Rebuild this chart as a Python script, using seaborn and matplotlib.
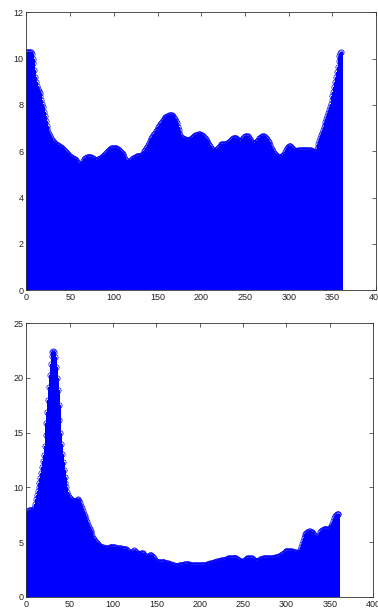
import numpy as np
import pandas as pd
import seaborn as sns
import matplotlib
matplotlib.use("Agg")
import matplotlib.pyplot as plt

# hue angle 0..360, one value per degree
angles = list(range(0, 361))

top_vals = [
    10.3, 10.3, 10.3, 10.3, 10.3, 10.3, 10.2, 10.0, 9.8, 9.5,
    9.2, 9.0, 8.8, 8.7, 8.6, 8.5, 8.4, 8.2, 8.05, 7.9,
    7.7, 7.5, 7.3, 7.1, 6.95, 6.85, 6.75, 6.65, 6.55, 6.5,
    6.45, 6.4, 6.35, 6.3, 6.3, 6.28, 6.25, 6.22, 6.2, 6.18,
    6.15, 6.12, 6.1, 6.05, 6.0, 5.95, 5.92, 5.9, 5.85, 5.8,
    5.78, 5.75, 5.72, 5.7, 5.68, 5.65, 5.62, 5.6, 5.55, 5.5,
    5.45, 5.42, 5.4, 5.45, 5.5, 5.58, 5.65, 5.7, 5.72, 5.75,
    5.75, 5.76, 5.76, 5.75, 5.74, 5.72, 5.7, 5.66, 5.64, 5.63,
    5.63, 5.64, 5.66, 5.68, 5.7, 5.72, 5.73, 5.76, 5.8, 5.84,
    5.88, 5.92, 5.96, 6.0, 6.04, 6.07, 6.1, 6.12, 6.14, 6.15,
    6.15, 6.15, 6.14, 6.12, 6.1, 6.08, 6.04, 6.0, 5.96, 5.92,
    5.88, 5.82, 5.75, 5.68, 5.6, 5.55, 5.5, 5.48, 5.52, 5.58,
    5.62, 5.66, 5.7, 5.72, 5.74, 5.76, 5.78, 5.8, 5.8, 5.8,
    5.8, 5.82, 5.84, 5.88, 5.94, 6.0, 6.06, 6.12, 6.2, 6.28,
    6.36, 6.44, 6.5, 6.56, 6.62, 6.68, 6.74, 6.8, 6.86, 6.92,
    6.98, 7.04, 7.1, 7.16, 7.22, 7.28, 7.33, 7.38, 7.42, 7.46,
    7.48, 7.51, 7.53, 7.55, 7.56, 7.56, 7.55, 7.53, 7.5, 7.45,
    7.38, 7.3, 7.2, 7.05, 6.9, 6.78, 6.68, 6.62, 6.58, 6.55,
    6.53, 6.52, 6.5, 6.5, 6.5, 6.5, 6.5, 6.52, 6.54, 6.56,
    6.6, 6.62, 6.65, 6.68, 6.7, 6.72, 6.73, 6.73, 6.73, 6.72,
    6.7, 6.68, 6.65, 6.62, 6.58, 6.52, 6.46, 6.4, 6.34, 6.28,
    6.22, 6.16, 6.1, 6.06, 6.03, 6.02, 6.02, 6.05, 6.1, 6.16,
    6.2, 6.24, 6.27, 6.3, 6.32, 6.33, 6.33, 6.33, 6.33, 6.34,
    6.35, 6.37, 6.4, 6.44, 6.48, 6.52, 6.55, 6.57, 6.58, 6.58,
    6.56, 6.52, 6.48, 6.44, 6.42, 6.42, 6.46, 6.52, 6.58, 6.62,
    6.64, 6.65, 6.65, 6.64, 6.62, 6.58, 6.52, 6.45, 6.4, 6.36,
    6.34, 6.34, 6.36, 6.4, 6.45, 6.5, 6.55, 6.58, 6.6, 6.62,
    6.64, 6.65, 6.65, 6.62, 6.58, 6.52, 6.46, 6.4, 6.33, 6.25,
    6.16, 6.08, 6.0, 5.94, 5.88, 5.84, 5.8, 5.78, 5.76, 5.75,
    5.75, 5.76, 5.78, 5.8, 5.84, 5.9, 5.98, 6.06, 6.14, 6.18,
    6.21, 6.22, 6.22, 6.2, 6.16, 6.1, 6.06, 6.04, 6.03, 6.03,
    6.03, 6.04, 6.05, 6.06, 6.07, 6.07, 6.07, 6.07, 6.07, 6.07,
    6.06, 6.06, 6.05, 6.05, 6.05, 6.04, 6.03, 6.02, 6.0, 5.97,
    5.95, 5.98, 6.08, 6.2, 6.32, 6.45, 6.57, 6.68, 6.8, 6.92,
    7.04, 7.15, 7.27, 7.4, 7.52, 7.64, 7.77, 7.9, 8.04, 8.2,
    8.38, 8.56, 8.76, 8.98, 9.2, 9.42, 9.64, 9.88, 10.1, 10.25,
    10.3,
]

bottom_vals = [
    7.6, 7.75, 7.85, 7.92, 7.95, 7.95, 7.92, 7.88, 7.9, 8.1,
    8.5, 8.95, 9.35, 9.7, 10.05, 10.45, 10.9, 11.35, 11.85, 12.4,
    13.0, 13.8, 14.8, 15.85, 16.9, 18.0, 19.2, 20.3, 21.3, 22.0,
    22.35, 22.45, 22.35, 21.9, 21.0, 20.0, 18.9, 17.5, 16.2, 15.0,
    14.0, 13.1, 12.3, 11.6, 11.0, 10.45, 10.0, 9.6, 9.3, 9.1,
    9.0, 8.9, 8.85, 8.8, 8.75, 8.72, 8.72, 8.78, 8.85, 8.9,
    8.85, 8.72, 8.55, 8.35, 8.1, 7.85, 7.6, 7.4, 7.2, 7.0,
    6.8, 6.6, 6.4, 6.2, 6.0, 5.8, 5.6, 5.4, 5.25, 5.12,
    5.0, 4.9, 4.82, 4.75, 4.68, 4.62, 4.58, 4.55, 4.52, 4.5,
    4.5, 4.5, 4.5, 4.5, 4.5, 4.5, 4.52, 4.55, 4.58, 4.6,
    4.6, 4.58, 4.52, 4.46, 4.42, 4.42, 4.44, 4.46, 4.46, 4.44,
    4.4, 4.36, 4.34, 4.36, 4.4, 4.38, 4.3, 4.2, 4.08, 4.0,
    3.98, 4.05, 4.15, 4.22, 4.25, 4.22, 4.15, 4.05, 3.95, 3.88,
    3.88, 3.92, 3.98, 4.02, 4.0, 3.95, 3.85, 3.75, 3.68, 3.66,
    3.7, 3.76, 3.8, 3.82, 3.8, 3.74, 3.64, 3.52, 3.4, 3.3,
    3.25, 3.22, 3.2, 3.2, 3.2, 3.2, 3.22, 3.22, 3.2, 3.16,
    3.12, 3.1, 3.08, 3.06, 3.05, 3.04, 3.02, 3.0, 2.96, 2.92,
    2.88, 2.85, 2.83, 2.83, 2.84, 2.86, 2.88, 2.9, 2.92, 2.94,
    2.95, 2.96, 2.97, 2.98, 2.98, 2.98, 2.98, 2.97, 2.96, 2.95,
    2.95, 2.94, 2.94, 2.93, 2.93, 2.92, 2.92, 2.91, 2.9, 2.9,
    2.9, 2.9, 2.9, 2.91, 2.92, 2.93, 2.94, 2.96, 2.98, 3.0,
    3.02, 3.04, 3.06, 3.08, 3.1, 3.12, 3.15, 3.18, 3.2, 3.22,
    3.24, 3.26, 3.28, 3.3, 3.32, 3.34, 3.36, 3.38, 3.4, 3.42,
    3.45, 3.48, 3.5, 3.52, 3.54, 3.56, 3.57, 3.58, 3.58, 3.57,
    3.56, 3.55, 3.52, 3.48, 3.42, 3.36, 3.3, 3.25, 3.22, 3.22,
    3.24, 3.3, 3.38, 3.45, 3.5, 3.52, 3.54, 3.55, 3.55, 3.54,
    3.52, 3.48, 3.42, 3.36, 3.32, 3.3, 3.3, 3.32, 3.36, 3.4,
    3.44, 3.48, 3.5, 3.52, 3.52, 3.52, 3.52, 3.52, 3.53, 3.54,
    3.55, 3.56, 3.57, 3.58, 3.58, 3.59, 3.6, 3.62, 3.64, 3.66,
    3.68, 3.7, 3.73, 3.77, 3.82, 3.88, 3.95, 4.02, 4.1, 4.16,
    4.2, 4.23, 4.24, 4.24, 4.22, 4.2, 4.18, 4.15, 4.12, 4.1,
    4.08, 4.06, 4.03, 4.0, 4.0, 4.1, 4.3, 4.55, 4.85, 5.15,
    5.4, 5.6, 5.75, 5.85, 5.92, 5.96, 5.98, 5.98, 5.96, 5.92,
    5.88, 5.8, 5.7, 5.55, 5.4, 5.3, 5.3, 5.45, 5.7, 5.92,
    6.05, 6.12, 6.16, 6.18, 6.18, 6.18, 6.18, 6.18, 6.2, 6.22,
    6.26, 6.35, 6.5, 6.7, 6.95, 7.18, 7.35, 7.48, 7.55, 7.58,
    7.6,
]

sns.set_style("ticks")
plt.rcParams['font.family'] = ['Liberation Sans', 'DejaVu Sans']

fig = plt.figure(figsize=(3.78, 6.11), dpi=100)
ax_top = fig.add_axes([0.070, 0.525, 0.925, 0.455])
ax_bot = fig.add_axes([0.070, 0.023, 0.917, 0.448])

def stem_panel(ax, vals, ymax, ystep):
    df = pd.DataFrame({'angle': angles, 'value': vals})
    # stems
    ax.vlines(df['angle'], 0, df['value'], color='blue', lw=0.75, antialiased=False)
    # open circle heads
    sns.lineplot(x='angle', y='value', data=df, ax=ax, linestyle='', marker='o',
                 markersize=3.8, markerfacecolor='none', markeredgecolor='blue',
                 markeredgewidth=0.5, color='blue')
    ax.set_xlim(0, 400)
    ax.set_ylim(0, ymax)
    ax.set_xticks(np.arange(0, 401, 50))
    ax.set_yticks(np.arange(0, ymax + 0.1, ystep))
    ax.set_xlabel("")
    ax.set_ylabel("")
    ax.tick_params(direction='in', length=3, width=0.5, labelsize=6.5, pad=2,
                   top=True, right=True, colors='#222222')
    for s in ax.spines.values():
        s.set_visible(True)
        s.set_linewidth(0.6)
        s.set_color('#333333')

stem_panel(ax_top, top_vals, 12, 2)
stem_panel(ax_bot, bottom_vals, 25, 5)

fig.savefig("out.png", dpi=100)
